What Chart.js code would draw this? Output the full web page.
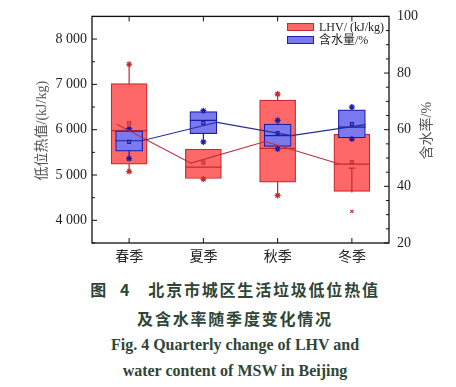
<!DOCTYPE html>
<html>
<head>
<meta charset="utf-8">
<script src="https://cdn.jsdelivr.net/npm/chart.js@4.4.1/dist/chart.umd.min.js"></script>
<style>
  html, body { margin: 0; padding: 0; background: #fff; }
  #wrap { position: relative; width: 456px; height: 387px; background: #fff; overflow: hidden; }
  #plot { position: absolute; left: 0; top: 0; width: 456px; height: 268px; }
  .legend { position: absolute; left: 287px; font: 12px "Liberation Serif", "Noto Sans CJK SC", serif; color: #222; }
  .legend i { position: absolute; left: 0; width: 25px; height: 6px; }
  .legend span { position: absolute; left: 32px; top: -8px; white-space: nowrap; line-height: 16px; }
  #caption { position: absolute; left: 7px; top: 0; width: 456px; text-align: center; color: #2f4637; font-weight: bold; }
  #caption div { position: absolute; left: 0; width: 456px; white-space: nowrap; }
  .cn { font: bold 16px "Noto Sans CJK SC", sans-serif; letter-spacing: 1.8px; }
  .en { font: bold 16px "Liberation Serif", "Times New Roman", serif; }
</style>
</head>
<body>
<div id="wrap">
  <div id="plot"><canvas id="chart"></canvas></div>
  <div class="legend" style="top:27px"><i style="top:-4px;background:#ff6868;border:1px solid #c8282d"></i><span>LHV/ (kJ/kg)</span></div>
  <div class="legend" style="top:40px"><i style="top:-4px;background:#7a7aee;border:1px solid #1c1ca8"></i><span>含水量/%</span></div>
  <div id="caption">
    <div class="cn" style="top:277px">图<span style="margin-left:12px">4</span><span style="margin-left:17px">北京市城区生活垃圾低位热值</span></div>
    <div class="cn" style="top:306px">及含水率随季度变化情况</div>
    <div class="en" style="top:336px">Fig. 4 Quarterly change of LHV and</div>
    <div class="en" style="top:362px">water content of MSW in Beijing</div>
  </div>
</div>
<script>
"use strict";

const seasons = ["春季", "夏季", "秋季", "冬季"];

// LHV, kJ/kg (left axis)
const lhvBoxLow = [5240, 4923, 4844, 4637];
const lhvBoxHigh = [7018, 5569, 6653, 5899];
const lhvMedian = [5978, 5174, 5590, 5240];
const lhvMean = [6140, 5275, 5750, 5283];
const lhvWhiskerLow = [5077, 4910, 4550, null];
const lhvWhiskerHigh = [7444, null, 6785, null];
const lhvErrLow = [null, null, null, 4615];
const lhvErrHigh = [null, null, null, 5152];
const lhvOutlier = [null, null, null, 4198];
const lhvTrend = [6120, 5262, 5740, 5245];

// water content, % (right axis)
const waterBoxLow = [52.4, 58.6, 54.1, 57.1];
const waterBoxHigh = [59.6, 66.4, 62.0, 67.0];
const waterMedian = [56.1, 63.3, 57.9, 60.9];
const waterMean = [55.7, 62.4, 58.8, 62.0];
const waterWhiskerLow = [49.8, 55.7, 53.2, 56.7];
const waterWhiskerHigh = [60.35, 66.7, 63.3, 68.0];
const waterTrend = [56.2, 62.6, 57.9, 61.8];

const lhvTicks = [4000, 5000, 6000, 7000, 8000];
const waterTicks = [20, 40, 60, 80, 100];

const RED = "#ff6868", RED_DARK = "#c8282d", RED_LINE = "#b8303f";
const BLUE = "#7a7aee", BLUE_DARK = "#1c1ca8", BLUE_LINE = "#23309a";
const serif = '"Liberation Serif", "Noto Sans CJK SC", serif';

// helpers: turn value arrays into {x,y} points on the hidden linear x axis
const points = (vals, dx = 0) => vals
  .map((v, i) => (v == null ? null : { x: i + dx, y: v }))
  .filter(Boolean);
const vSegments = (lows, highs, boxLows, boxHighs) => {
  const out = [];
  lows.forEach((lo, i) => {
    const a = lo ?? (boxLows ? boxLows[i] : null);
    const b = highs[i] ?? (boxHighs ? boxHighs[i] : null);
    if (a == null || b == null) return;
    out.push({ x: i, y: a }, { x: i, y: b }, { x: i, y: null });
  });
  return out;
};
const hSegments = (vals, half) => {
  const out = [];
  vals.forEach((v, i) => {
    if (v == null) return;
    out.push({ x: i - half, y: v }, { x: i + half, y: v }, { x: i, y: null });
  });
  return out;
};
const fmt = (v) => String(v).replace(/\B(?=(\d{3})+(?!\d))/g, " ");

const segLine = (data, color, yAxisID, order, width = 1) => ({
  type: "line", data, xAxisID: "xl", yAxisID, order,
  borderColor: color, borderWidth: width, pointRadius: 0, spanGaps: false,
});
const markers = (data, color, yAxisID, order, style, radius) => ({
  type: "line", data, xAxisID: "xl", yAxisID, order, showLine: false,
  pointStyle: style, pointRadius: radius, borderColor: color, backgroundColor: "rgba(0,0,0,0)",
  pointBorderWidth: 1.2,
});

const decor = {
  id: "decor",
  afterDraw(chart) {
    const { ctx, chartArea: a, scales } = chart;
    ctx.save();
    ctx.strokeStyle = "#111";
    ctx.lineWidth = 1.3;
    ctx.strokeRect(a.left, a.top, a.right - a.left, a.bottom - a.top);
    ctx.lineWidth = 1;
    const tick = (x1, y1, x2, y2) => {
      ctx.beginPath(); ctx.moveTo(x1, y1); ctx.lineTo(x2, y2); ctx.stroke();
    };
    for (let v = 3500; v <= 8500; v += 500) {
      const y = scales.y.getPixelForValue(v);
      tick(a.left, y, a.left + (lhvTicks.includes(v) ? 5 : 3), y);
    }
    for (let v = 20; v <= 100; v += 5) {
      const y = scales.y1.getPixelForValue(v);
      tick(a.right, y, a.right - (waterTicks.includes(v) ? 5 : 3), y);
    }
    seasons.forEach((s, i) => {
      const x = scales.x.getPixelForValue(i);
      tick(x, a.bottom, x, a.bottom - 5);
      tick(x, a.top, x, a.top + 5);
    });
    // axis titles, both reading bottom to top
    ctx.font = "14px " + serif;
    ctx.fillStyle = "#555";
    ctx.textAlign = "center";
    ctx.textBaseline = "middle";
    const midY = (a.top + a.bottom) / 2 + 1;
    [[42, "低位热值/(kJ/kg)"], [427, "含水率/%"]].forEach(([x, text]) => {
      ctx.save();
      ctx.translate(x, midY);
      ctx.rotate(-Math.PI / 2);
      ctx.fillText(text, 0, 0);
      ctx.restore();
    });
    ctx.restore();
  },
};

new Chart(document.getElementById("chart"), {
  type: "bar",
  data: {
    labels: seasons,
    datasets: [
      segLine(vSegments(lhvWhiskerLow, lhvWhiskerHigh, lhvBoxLow, lhvBoxHigh), RED_DARK, "y", 20, 1.2),
      {
        type: "bar", data: lhvBoxLow.map((lo, i) => [lo, lhvBoxHigh[i]]), xAxisID: "x", yAxisID: "y", order: 19,
        grouped: false, barThickness: 36, backgroundColor: RED, borderColor: RED_DARK, borderWidth: 1.2, borderSkipped: false,
      },
      segLine(hSegments(lhvMedian, 0.2424), RED_DARK, "y", 18, 1.2),
      segLine(vSegments(lhvErrLow, lhvErrHigh), RED_DARK, "y", 18, 1.2),
      segLine(hSegments(lhvErrHigh, 0.045), RED_DARK, "y", 18, 1.2),
      markers(points(lhvMean), RED_DARK, "y", 17, "rect", 2),
      markers(points(lhvWhiskerLow).concat(points(lhvWhiskerHigh)), RED_DARK, "y", 17, "star", 3),
      markers(points(lhvOutlier), RED_DARK, "y", 17, "crossRot", 2.2),

      segLine(vSegments(waterWhiskerLow, waterWhiskerHigh), BLUE_DARK, "y1", 12, 1.2),
      {
        type: "bar", data: waterBoxLow.map((lo, i) => [lo, waterBoxHigh[i]]), xAxisID: "x", yAxisID: "y1", order: 11,
        grouped: false, barThickness: 27, backgroundColor: BLUE, borderColor: BLUE_DARK, borderWidth: 1.2, borderSkipped: false,
      },
      segLine(hSegments(waterMedian, 0.182), BLUE_DARK, "y1", 10, 1.2),
      markers(points(waterMean), BLUE_DARK, "y1", 9, "rect", 2),
      markers(points(waterWhiskerLow).concat(points(waterWhiskerHigh)), BLUE_DARK, "y1", 9, "star", 3),

      segLine(points(lhvTrend, -0.167), RED_LINE, "y", 2, 1.1),
      segLine(points(waterTrend, 0.185), BLUE_LINE, "y1", 1, 1.1),
    ],
  },
  options: {
    responsive: true,
    maintainAspectRatio: false,
    animation: false,
    layout: { padding: { top: 15, left: 0, right: 0, bottom: 0 } },
    plugins: { legend: { display: false }, tooltip: { enabled: false } },
    scales: {
      x: {
        type: "category", position: "bottom", offset: true,
        grid: { display: false, drawTicks: false }, border: { display: false },
        ticks: { font: { family: serif, size: 14 }, color: "#222", padding: 6 },
        afterFit: (s) => { s.height = 25; },
      },
      xl: {
        type: "linear", min: -0.5, max: 3.5, display: false, offset: false,
        grid: { offset: false }, bounds: "data",
      },
      y: {
        position: "left", min: 3500, max: 8500,
        grid: { display: false, drawTicks: false }, border: { display: false },
        afterBuildTicks: (s) => { s.ticks = lhvTicks.map((value) => ({ value })); },
        ticks: { font: { family: serif, size: 14 }, color: "#1e1e1e", padding: 5, callback: (v) => fmt(v) },
        afterFit: (s) => { s.width = 92; },
      },
      y1: {
        position: "right", min: 20, max: 100,
        grid: { display: false, drawTicks: false }, border: { display: false },
        afterBuildTicks: (s) => { s.ticks = waterTicks.map((value) => ({ value })); },
        ticks: { font: { family: serif, size: 14 }, color: "#1e1e1e", padding: 8 },
        afterFit: (s) => { s.width = 67; },
      },
    },
  },
  plugins: [decor],
});
</script>
</body>
</html>
